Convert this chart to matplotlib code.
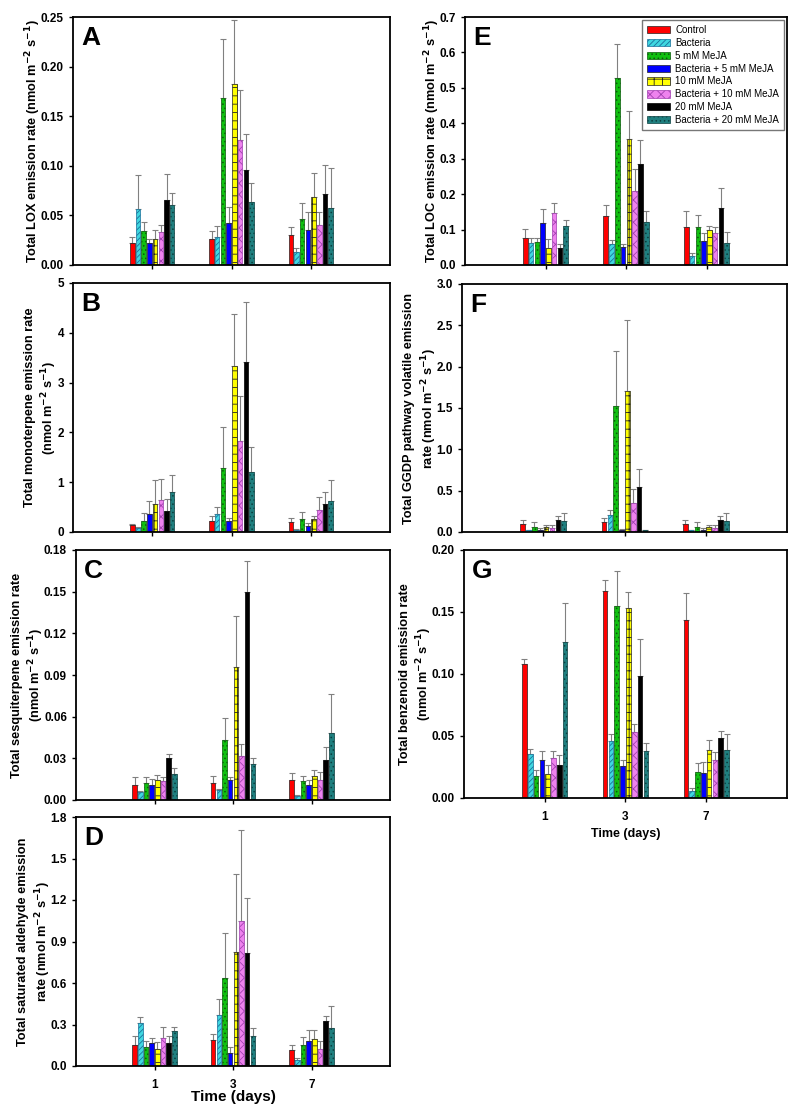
import numpy as np
import matplotlib
matplotlib.use("Agg")
import matplotlib.pyplot as plt
from matplotlib.ticker import FormatStrFormatter

plt.rcParams['font.family'] = ['Liberation Sans', 'DejaVu Sans']
plt.rcParams['hatch.linewidth'] = 0.6

##################### Data ######################
days = ['1', '3', '7']
treatments = ['Control', 'Bacteria', '5 mM MeJA', 'Bacteria + 5 mM MeJA',
              '10 mM MeJA', 'Bacteria + 10 mM MeJA', '20 mM MeJA',
              'Bacteria + 20 mM MeJA']

# rows = day 1, 3, 7 ; columns = treatments
lox_mean = [[0.022, 0.056, 0.034, 0.022, 0.026, 0.033, 0.066, 0.060],
            [0.026, 0.028, 0.168, 0.042, 0.182, 0.126, 0.096, 0.064],
            [0.030, 0.0135, 0.046, 0.035, 0.069, 0.040, 0.072, 0.0575]]
lox_err = [[0.006, 0.035, 0.009, 0.004, 0.009, 0.007, 0.026, 0.013],
           [0.008, 0.011, 0.060, 0.016, 0.065, 0.050, 0.036, 0.019],
           [0.008, 0.0035, 0.016, 0.018, 0.0235, 0.0135, 0.029, 0.040]]

mono_mean = [[0.14, 0.08, 0.23, 0.37, 0.56, 0.64, 0.43, 0.81],
             [0.23, 0.37, 1.29, 0.22, 3.34, 1.82, 3.41, 1.20],
             [0.21, 0.05, 0.26, 0.12, 0.27, 0.44, 0.56, 0.62]]
mono_err = [[0.03, 0.03, 0.16, 0.25, 0.48, 0.42, 0.24, 0.33],
            [0.10, 0.13, 0.82, 0.07, 1.04, 0.92, 1.21, 0.50],
            [0.07, 0.01, 0.14, 0.06, 0.06, 0.26, 0.24, 0.43]]

sesq_mean = [[0.0106, 0.0055, 0.0123, 0.0108, 0.0142, 0.0137, 0.030, 0.019],
             [0.012, 0.0075, 0.0435, 0.0147, 0.096, 0.0317, 0.1498, 0.026],
             [0.0147, 0.0031, 0.0137, 0.011, 0.0175, 0.0147, 0.029, 0.0486]]
sesq_err = [[0.0062, 0.0012, 0.004, 0.0041, 0.0038, 0.0031, 0.003, 0.0043],
            [0.0055, 0.0003, 0.0152, 0.0021, 0.0367, 0.0083, 0.0222, 0.004],
            [0.005, 0.0007, 0.0033, 0.0037, 0.0044, 0.0053, 0.009, 0.0274]]

ald_mean = [[0.15, 0.314, 0.138, 0.164, 0.125, 0.203, 0.169, 0.253],
            [0.188, 0.367, 0.639, 0.092, 0.823, 1.05, 0.816, 0.215],
            [0.113, 0.043, 0.150, 0.179, 0.193, 0.121, 0.323, 0.278]]
ald_err = [[0.065, 0.041, 0.041, 0.041, 0.046, 0.082, 0.046, 0.032],
           [0.041, 0.12, 0.321, 0.043, 0.565, 0.656, 0.398, 0.063],
           [0.041, 0.015, 0.062, 0.084, 0.07, 0.062, 0.039, 0.156]]

loc_mean = [[0.077, 0.062, 0.064, 0.118, 0.049, 0.146, 0.047, 0.110],
            [0.137, 0.059, 0.528, 0.051, 0.355, 0.209, 0.286, 0.120],
            [0.108, 0.025, 0.108, 0.068, 0.098, 0.091, 0.161, 0.063]]
loc_err = [[0.026, 0.015, 0.013, 0.040, 0.023, 0.029, 0.011, 0.017],
           [0.031, 0.011, 0.096, 0.007, 0.081, 0.061, 0.066, 0.032],
           [0.044, 0.010, 0.032, 0.022, 0.013, 0.015, 0.057, 0.029]]

ggdp_mean = [[0.10, 0.02, 0.065, 0.03, 0.055, 0.05, 0.14, 0.13],
             [0.115, 0.21, 1.52, 0.025, 1.70, 0.35, 0.545, 0.025],
             [0.10, 0.02, 0.065, 0.03, 0.055, 0.05, 0.14, 0.13]]
ggdp_err = [[0.05, 0.005, 0.05, 0.015, 0.025, 0.03, 0.055, 0.105],
            [0.05, 0.06, 0.67, 0.01, 0.87, 0.17, 0.22, 0.005],
            [0.05, 0.005, 0.05, 0.015, 0.025, 0.03, 0.055, 0.105]]

benz_mean = [[0.108, 0.0358, 0.018, 0.0304, 0.0197, 0.0326, 0.027, 0.1257],
             [0.167, 0.0458, 0.1548, 0.0258, 0.153, 0.053, 0.098, 0.038],
             [0.1435, 0.006, 0.021, 0.020, 0.0385, 0.0307, 0.0487, 0.0385]]
benz_err = [[0.004, 0.0035, 0.0046, 0.0076, 0.0073, 0.0054, 0.008, 0.0313],
            [0.009, 0.0062, 0.0282, 0.0046, 0.013, 0.007, 0.030, 0.0067],
            [0.022, 0.002, 0.007, 0.0088, 0.0081, 0.0062, 0.0057, 0.0135]]

##################### Styles ######################
faces = ['#ff0000', '#3fd7e0', '#10c010', '#0000ff',
         '#ffff00', '#ee82ee', '#000000', '#1f7f7f']
edges = ['#222222', '#1a6f9a', '#0a5a0a', '#222222',
         '#222222', '#a040b0', '#000000', '#0a3f3f']
hatches = [None, '//////', '....', None, '++', 'xxx', None, '....']

step = 0.072
width = 0.057


def panel(rect, mean, err, ylim, yticks, fmt, ylabel, letter,
          xlab=None, xlab_size=9, xlab_pad=2):
    ax = fig.add_axes(rect)
    mean = np.array(mean).T
    err = np.array(err).T
    x = np.arange(len(days))
    for i in range(len(treatments)):
        xi = x + (i - 3.5) * step
        ax.bar(xi, mean[i], width, color=faces[i], edgecolor=edges[i],
               hatch=hatches[i], linewidth=0.5, label=treatments[i], zorder=2)
        ax.errorbar(xi, mean[i], yerr=[np.zeros(3), err[i]], fmt='none',
                    ecolor='#808080', elinewidth=0.8, capsize=2.5,
                    capthick=0.8, zorder=1)
    ax.set_xlim(-1, 3)
    ax.set_ylim(*ylim)
    ax.set_yticks(yticks)
    ax.yaxis.set_major_formatter(FormatStrFormatter(fmt))
    ax.set_xticks(x)
    if xlab:
        ax.set_xticklabels(days)
        ax.set_xlabel(xlab, fontsize=xlab_size, fontweight='bold',
                      labelpad=xlab_pad)
    else:
        ax.set_xticklabels([])
    for lab in ax.get_yticklabels() + ax.get_xticklabels():
        lab.set_fontweight('bold')
    ax.tick_params(labelsize=8.5, length=3, width=1, direction='out')
    ax.tick_params(axis='x', pad=6.5)
    ax.set_ylabel(ylabel, fontsize=9.2, fontweight='bold', linespacing=1.25,
                  labelpad=-1.5)
    for s in ax.spines.values():
        s.set_linewidth(1.3)
    ax.text(0.025, 0.965, letter, transform=ax.transAxes, fontsize=19,
            fontweight='bold', va='top', ha='left')
    return ax


##################### Plots ###########################
fig = plt.figure(figsize=(8, 11.16), dpi=100)
unit = 'nmol m$^{\\mathbf{-2}}$ s$^{\\mathbf{-1}}$'

def frac(l, t, r, b):
    return [l / 800, 1 - b / 1116, (r - l) / 800, (b - t) / 1116]

panel(frac(73, 17, 390, 265), lox_mean, lox_err, (0, 0.25),
      np.arange(0, 0.26, 0.05), '%.2f',
      'Total LOX emission rate (' + unit + ')', 'A')
panel(frac(73, 283, 390, 532), mono_mean, mono_err, (0, 5),
      np.arange(0, 6, 1), '%d',
      'Total monoterpene emission rate\n(' + unit + ')', 'B')
panel(frac(76, 550, 390, 800), sesq_mean, sesq_err, (0, 0.18),
      np.arange(0, 0.181, 0.03), '%.2f',
      'Total sesquiterpene emission rate\n(' + unit + ')', 'C')
panel(frac(76, 817, 390, 1066), ald_mean, ald_err, (0, 1.8),
      np.arange(0, 1.81, 0.3), '%.1f',
      'Total saturated aldehyde emission\nrate (' + unit + ')', 'D',
      xlab='Time (days)', xlab_size=11, xlab_pad=-0.5)
axE = panel(frac(465, 17, 787, 265), loc_mean, loc_err, (0, 0.7),
            np.arange(0, 0.71, 0.1), '%.1f',
            'Total LOC emission rate (' + unit + ')', 'E')
panel(frac(462, 284, 787, 532), ggdp_mean, ggdp_err, (0, 3.0),
      np.arange(0, 3.01, 0.5), '%.1f',
      'Total GGDP pathway volatile emission\nrate (' + unit + ')', 'F')
panel(frac(464, 550, 787, 798), benz_mean, benz_err, (0, 0.20),
      np.arange(0, 0.201, 0.05), '%.2f',
      'Total benzenoid emission rate\n(' + unit + ')', 'G',
      xlab='Time (days)', xlab_size=9, xlab_pad=3.5)

leg = axE.legend(loc='upper right', fontsize=7, frameon=True, fancybox=False,
                 handlelength=2.3, handleheight=0.75, labelspacing=0.3,
                 borderpad=0.5, handletextpad=0.6, borderaxespad=0.3)
leg.get_frame().set_edgecolor('#555555')
leg.get_frame().set_linewidth(1.0)

fig.savefig('out.png', dpi=100)
